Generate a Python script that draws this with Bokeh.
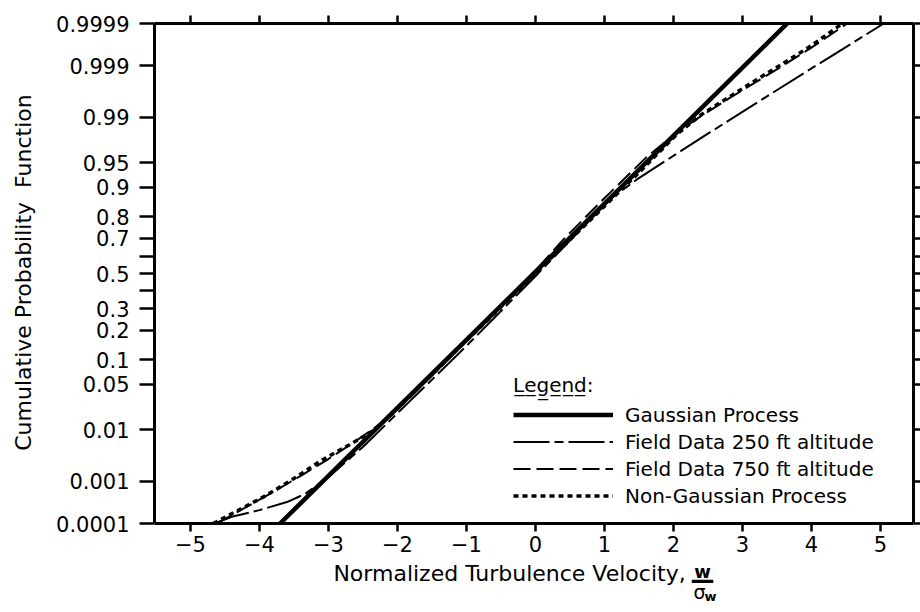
from statistics import NormalDist
from bokeh.plotting import figure
from bokeh.models import FixedTicker, LinearAxis, Range1d, Legend, LegendItem, Label
from bokeh.embed import file_html
from bokeh.resources import INLINE

nd = NormalDist()

# ---- axis ticks ----
prob_ticks = [0.0001, 0.001, 0.01, 0.05, 0.1, 0.2, 0.3, 0.4, 0.5, 0.6, 0.7,
              0.8, 0.9, 0.95, 0.99, 0.999, 0.9999]
prob_labels = ["0.0001", "0.001", "0.01", "0.05", "0.1", "0.2", "0.3", "",
               "0.5", "", "0.7", "0.8", "0.9", "0.95", "0.99", "0.999", "0.9999"]
x_ticks = [-5, -4, -3, -2, -1, 0, 1, 2, 3, 4, 5]
x_tick_labels = ["\u22125", "\u22124", "\u22123", "\u22122", "\u22121", "0",
                 "1", "2", "3", "4", "5"]

# ---- curves: w/sigma_w  vs  standard-normal quantile of cumulative probability ----
gauss_w = [-3.70, 3.65]
gauss_q = [-3.719, 3.719]

field250_w = [-4.65, -4.40, -4.00, -3.60, -3.34, -3.00, -2.50, -1.80, -1.00, 0.00,
              1.10, 1.50, 2.50, 3.24, 4.00, 5.05]
field250_q = [-3.719, -3.62, -3.52, -3.40, -3.28, -3.03, -2.58, -1.88, -1.08, -0.04,
              1.12, 1.42, 2.08, 2.56, 3.05, 3.719]

field750_w = [-4.62, -4.20, -3.80, -3.40, -3.00, -2.60, -2.20, -1.90, -1.00, 0.00,
              0.40, 1.00, 1.60, 2.05, 2.40, 2.80, 3.20, 3.60, 4.00, 4.52]
field750_q = [-3.719, -3.48, -3.25, -3.01, -2.76, -2.49, -2.20, -1.93, -1.00, 0.04,
              0.50, 1.12, 1.72, 2.10, 2.34, 2.60, 2.85, 3.10, 3.36, 3.719]

nongauss_w = [-4.67, -4.30, -3.90, -3.50, -3.10, -2.70, -2.35, -2.05, -1.50, 0.00,
              1.50, 2.05, 2.40, 2.80, 3.20, 3.60, 4.00, 4.45]
nongauss_q = [-3.719, -3.52, -3.30, -3.05, -2.78, -2.55, -2.34, -2.06, -1.50, 0.00,
              1.50, 2.07, 2.36, 2.62, 2.88, 3.13, 3.39, 3.719]

FONT = "DejaVu Sans"
W, H = 920, 612
TOP_BORDER = 23
PLOT_PX = 500          # pixel height of the probability region

y_lo = nd.inv_cdf(prob_ticks[0])
y_hi = nd.inv_cdf(prob_ticks[-1])
ppu = PLOT_PX / (y_hi - y_lo)
frame_h = H - TOP_BORDER
# frame extends to the bottom of the canvas so the x-label fraction can be drawn
y_start = y_hi - frame_h / ppu

y_tick_pos = [nd.inv_cdf(v) for v in prob_ticks]
y_overrides = {pos: lab for pos, lab in zip(y_tick_pos, prob_labels)}
x_overrides = {t: lab for t, lab in zip(x_ticks, x_tick_labels)}

p = figure(width=W, height=H,
           x_range=Range1d(-5.52, 5.48),
           y_range=Range1d(y_start, y_hi),
           output_backend="svg", toolbar_location=None,
           min_border_left=154, min_border_right=6, min_border_top=TOP_BORDER,
           min_border_bottom=0)
p.background_fill_color = "white"
p.border_fill_color = "white"
p.outline_line_color = None
p.xgrid.visible = False
p.ygrid.visible = False

def style_axis(ax, tick_out, show_labels=True):
    ax.axis_line_color = "black"
    ax.axis_line_width = 3
    ax.major_tick_line_color = "black"
    ax.major_tick_line_width = 2.5
    ax.major_tick_out = tick_out
    ax.major_tick_in = 0
    ax.minor_tick_line_color = None
    ax.major_label_text_font = FONT
    ax.major_label_text_color = "black"
    if not show_labels:
        ax.major_label_text_font_size = "1px"
        ax.major_label_text_color = None
        ax.major_label_standoff = 0

# bottom x axis, fixed at the bottom of the probability region
xa = p.xaxis[0]
xa.fixed_location = y_lo
xa.ticker = FixedTicker(ticks=x_ticks, minor_ticks=[])
xa.major_label_overrides = x_overrides
style_axis(xa, 8)
xa.major_label_text_font_size = "21px"
xa.major_label_standoff = 4
xa.axis_label = "Normalized Turbulence Velocity," + "\u00a0" * 7
xa.axis_label_text_font = FONT
xa.axis_label_text_font_size = "22px"
xa.axis_label_text_font_style = "normal"
xa.axis_label_text_color = "black"
xa.axis_label_standoff = 6

# left y axis
ya = p.yaxis[0]
ya.bounds = (y_lo, y_hi)
ya.ticker = FixedTicker(ticks=y_tick_pos, minor_ticks=[])
ya.major_label_overrides = y_overrides
style_axis(ya, 15)
ya.major_label_text_font_size = "21px"
ya.major_label_standoff = 10
# leading no-break spaces centre the visible text on the probability region
ya.axis_label = "\u00a0" * 13 + "Cumulative Probability\u00a0 Function"
ya.axis_label_text_font = FONT
ya.axis_label_text_font_size = "22px"
ya.axis_label_text_font_style = "normal"
ya.axis_label_text_color = "black"
ya.axis_label_standoff = 17

# top and right axes (ticks only)
top = LinearAxis(ticker=FixedTicker(ticks=x_ticks, minor_ticks=[]))
style_axis(top, 8, show_labels=False)
p.add_layout(top, "above")
right = LinearAxis(ticker=FixedTicker(ticks=y_tick_pos, minor_ticks=[]),
                   bounds=(y_lo, y_hi))
style_axis(right, 7, show_labels=False)
p.add_layout(right, "right")

# curves
r_g = p.line(gauss_w, gauss_q, line_color="black", line_width=4.5)
r_250 = p.line(field250_w, field250_q, line_color="black", line_width=2,
               line_dash="36 5 9 5")
r_750 = p.line(field750_w, field750_q, line_color="black", line_width=2,
               line_dash="17 6")
r_ng = p.line(nongauss_w, nongauss_q, line_color="black", line_width=3.5,
              line_dash="5 4")

legend = Legend(items=[
    LegendItem(label="Gaussian Process", renderers=[r_g]),
    LegendItem(label="Field Data 250 ft altitude", renderers=[r_250]),
    LegendItem(label="Field Data 750 ft altitude", renderers=[r_750]),
    LegendItem(label="Non-Gaussian Process", renderers=[r_ng]),
], location=(359, 103))
legend.title = "L\u0332e\u0332g\u0332e\u0332n\u0332d\u0332:"
legend.title_text_font = FONT
legend.title_text_font_size = "20px"
legend.title_text_font_style = "normal"
legend.title_text_color = "black"
legend.title_standoff = 4
legend.label_text_font = FONT
legend.label_text_font_size = "20px"
legend.label_text_color = "black"
legend.glyph_width = 100
legend.glyph_height = 27
legend.label_height = 27
legend.label_standoff = 12
legend.spacing = 0
legend.padding = 0
legend.margin = 0
legend.border_line_alpha = 0
legend.background_fill_alpha = 0
p.add_layout(legend, "center")

# fraction w / sigma_w after the x-axis label
def frac_label(x, y, text, size, style="normal"):
    p.add_layout(Label(x=x, y=y, x_units="canvas", y_units="canvas", text=text,
                       text_font=FONT, text_font_size=size,
                       text_font_style=style, text_color="black",
                       text_align="center", text_baseline="middle"))

frac_label(702, 571, "w", "18px", "bold")
frac_label(702, 579, "\u2014", "24px", "bold")
frac_label(699, 591, "\u03c3", "19px")
frac_label(710, 596, "w", "13px", "bold")

open("out.html", "w").write(file_html(p, INLINE))
